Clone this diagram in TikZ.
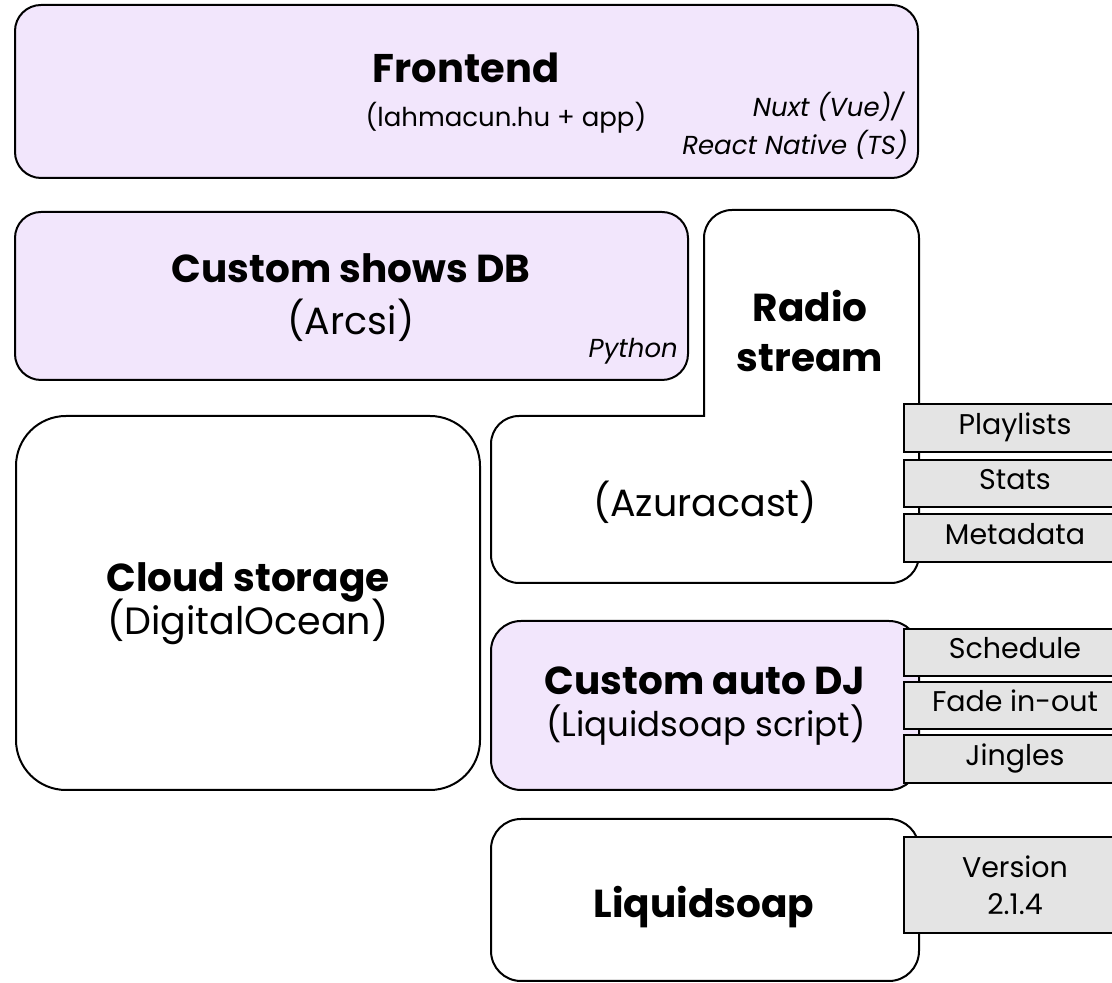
\documentclass[tikz,border=0pt]{standalone}
\usepackage{fontspec}
\setmainfont{Poppins}
\definecolor{lav}{RGB}{242,230,252}
\definecolor{tabgray}{RGB}{228,228,228}
\tikzset{
  box/.style={draw=black, line width=2pt},
  lavbox/.style={box, fill=lav},
  whitebox/.style={box, fill=white},
  tabbox/.style={draw=black, line width=2pt, fill=tabgray},
  ttl/.style={font=\fontsize{#1}{#1}\selectfont\bfseries, anchor=base, inner sep=0pt},
  ttl/.default=39,
  sub/.style={font=\fontsize{#1}{#1}\selectfont, anchor=base, inner sep=0pt},
  sub/.default=38,
  note/.style={font=\fontsize{26}{28}\selectfont\itshape, anchor=base east, inner sep=0pt},
  tabtxt/.style={font=\fontsize{28.5}{30}\selectfont, anchor=center, inner sep=0pt, text height=0.7em, text depth=0pt},
  vtxt/.style={font=\fontsize{28.5}{30}\selectfont, anchor=base, inner sep=0pt},
}
\begin{document}
\begin{tikzpicture}[x=1pt,y=1pt]
\clip (0,0) rectangle (1112,983);
\fill[white] (0,0) rectangle (1112,983);

% Frontend
\draw[lavbox, rounded corners=26] (15,805) rectangle (918,978);
\node[ttl=40] (fe) at (466,900) {Frontend};
\node[sub=26] (fes) at (506,856) {(lahmacun.hu + app)};
\node[note] (fen1) at (904,866) {Nuxt (Vue)/};
\node[note] (fen2) at (908,828) {React Native (TS)};

% Custom shows DB
\draw[lavbox, rounded corners=26] (15,603) rectangle (688,771);
\node[ttl] (db) at (351,700) {Custom shows DB};
\node[sub] (dbs) at (351,648) {(Arcsi)};
\node[note] (dbn) at (678,625) {Python};

% Radio stream (L-shaped)
\draw[whitebox] (704,567) -- (704,745) arc[start angle=180,end angle=90,radius=28]
  -- (891,773) arc[start angle=90,end angle=0,radius=28]
  -- (919,428) arc[start angle=0,end angle=-90,radius=28]
  -- (519,400) arc[start angle=270,end angle=180,radius=28]
  -- (491,539) arc[start angle=180,end angle=90,radius=28]
  -- cycle;
\node[ttl] (rs1) at (810,661) {Radio};
\node[ttl] (rs2) at (810,611) {stream};
\node[sub] (az) at (705,466) {(Azuracast)};

% Cloud storage
\draw[whitebox, rounded corners=50] (16,193) rectangle (480,567);
\node[ttl] (cs) at (248,391) {Cloud storage};
\node[sub] (css) at (248,348) {(DigitalOcean)};

% Custom auto DJ
\draw[lavbox, rounded corners=30] (491,193) rectangle (919,362);
\node[ttl] (dj) at (705,288) {Custom auto DJ};
\node[sub=34] (djs) at (706,246) {(Liquidsoap script)};

% Liquidsoap
\draw[whitebox, rounded corners=30] (491,2) rectangle (919,164);
\node[ttl] (ls) at (704,65) {Liquidsoap};

% Tabs for Radio stream
\draw[tabbox] (904,531) rectangle (1126,579);
\node[tabtxt] (t1) at (1015,552) {Playlists};
\draw[tabbox] (904,476) rectangle (1126,523);
\node[tabtxt] (t2) at (1015,496.5) {Stats};
\draw[tabbox] (904,421) rectangle (1126,469);
\node[tabtxt] (t3) at (1015,442) {Metadata};

% Tabs for auto DJ
\draw[tabbox] (904,307) rectangle (1126,354);
\node[tabtxt] (t4) at (1015,327.5) {Schedule};
\draw[tabbox] (904,254) rectangle (1126,301);
\node[tabtxt] (t5) at (1015,274.5) {Fade in-out};
\draw[tabbox] (904,200) rectangle (1126,248);
\node[tabtxt] (t6) at (1015,221) {Jingles};

% Version tab
\draw[tabbox] (904,50) rectangle (1126,146);
\node[vtxt] (v1) at (1015,105) {Version};
\node[vtxt] (v2) at (1015,68) {2.1.4};
\end{tikzpicture}
\end{document}
